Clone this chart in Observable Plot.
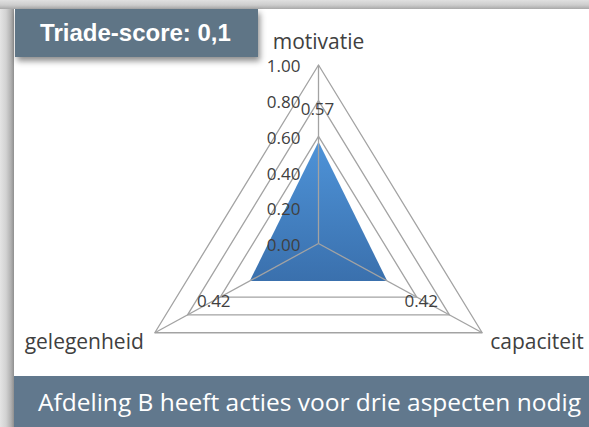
<!DOCTYPE html>
<html>
<head>
<meta charset="utf-8">
<script src="https://cdn.jsdelivr.net/npm/d3@7"></script>
<script src="https://cdn.jsdelivr.net/npm/@observablehq/plot@0.6"></script>
<style>
  html, body { margin: 0; padding: 0; }
  body { width: 589px; height: 427px; overflow: hidden; }
  #frame {
    position: relative; width: 589px; height: 427px; overflow: hidden;
    background: linear-gradient(to right, #e4e4e4 0px, #d2d2d2 6px, #b0b0b0 11px, #8f8f8f 14px);
  }
  #topstrip {
    position: absolute; left: 0; top: 0; width: 589px; height: 9px;
    background: linear-gradient(to bottom, #e0e0e0 0px, #cdcdcd 5px, #a8a8a8 9px);
  }
  #panel {
    position: absolute; left: 14px; top: 9px; width: 575px; height: 418px;
    background: #ffffff;
  }
  #chart { position: absolute; left: 0; top: 0; }
  #title {
    position: absolute; left: 15px; top: 9px; width: 243px; height: 48px;
    background: #5f7586; color: #fff;
    font-family: "Liberation Sans", Arial, sans-serif; font-weight: bold; font-size: 24px;
    line-height: 48px; text-align: center; box-sizing: border-box; padding-right: 2px;
    box-shadow: 2px 4px 6px rgba(0,0,0,0.45);
  }
  #caption {
    position: absolute; left: 14px; top: 376px; width: 575px; height: 51px;
    background: #61788d; color: #fff;
    font-family: "Open Sans", Lato, sans-serif; font-size: 24.5px;
    line-height: 51px; box-sizing: border-box; padding-left: 24px; white-space: nowrap;
  }
</style>
</head>
<body>
<div id="frame">
  <div id="topstrip"></div>
  <div id="panel"></div>
  <div id="chart"></div>
  <div id="title">Triade-score: 0,1</div>
  <div id="caption">Afdeling B heeft acties voor drie aspecten nodig</div>
</div>
<script>
// ---- data ----
const axes = ["motivatie", "capaciteit", "gelegenheid"];
const angles = [90, -30, 210];            // degrees, one per axis
const values = [0.57, 0.42, 0.42];
const ticks = [0, 0.2, 0.4, 0.6, 0.8, 1.0];
const tickLabels = ["0.00", "0.20", "0.40", "0.60", "0.80", "1.00"];
const valueLabels = ["0.57", "0.42", "0.42"];

// ---- derived tables ----
const rad = a => a * Math.PI / 180;
const pt = (r, i) => ({x: r * Math.cos(rad(angles[i])), y: r * Math.sin(rad(angles[i]))});

const rings = ticks.flatMap(t => [0, 1, 2, 0].map(i => ({...pt(t, i), ring: t})));
const area = [0, 1, 2, 0].map(i => pt(values[i], i));
const spokes = axes.map((a, i) => ({x1: 0, y1: 0, x2: pt(1, i).x, y2: pt(1, i).y}));
const tickTable = ticks.map((t, i) => ({x: 0, y: t, label: tickLabels[i]}));
const valueTable = values.map((v, i) => ({...pt(v, i), label: valueLabels[i], i}));
const axisTable = axes.map((a, i) => ({...pt(1, i), label: a, i}));

const cx = 318, cy = 243, Rx = 189, Ry = 178.5;
const font = "'Open Sans', Lato, sans-serif";
const txt = "#404040";

const plot = Plot.plot({
  width: 589,
  height: 376,
  margin: 0,
  style: {background: "transparent", fontFamily: font, overflow: "visible"},
  x: {domain: [-1, 1], range: [cx - Rx, cx + Rx], axis: null},
  y: {domain: [-1, 1], range: [cy + Ry, cy - Ry], axis: null},
  marks: [
    Plot.line(rings, {x: "x", y: "y", z: "ring", stroke: "#a3a3a3", strokeWidth: 1.3}),
    Plot.line(area, {x: "x", y: "y", fill: "url(#blueGrad)", stroke: "none", curve: "linear"}),
    Plot.link(spokes, {x1: "x1", y1: "y1", x2: "x2", y2: "y2", stroke: "#a3a3a3", strokeWidth: 1.3}),
    Plot.text(tickTable, {x: "x", y: "y", text: "label", textAnchor: "end", dx: -18, dy: 2, fontSize: 17, fill: txt}),
    Plot.text(valueTable.filter(d => d.i === 0), {x: "x", y: "y", text: "label", dx: -1, dy: -32, fontSize: 17, fill: txt}),
    Plot.text(valueTable.filter(d => d.i === 1), {x: "x", y: "y", text: "label", dx: 34, dy: 21, fontSize: 17, fill: txt}),
    Plot.text(valueTable.filter(d => d.i === 2), {x: "x", y: "y", text: "label", dx: -36, dy: 21, fontSize: 17, fill: txt}),
    Plot.text(axisTable.filter(d => d.i === 0), {x: "x", y: "y", text: "label", dy: -23, fontSize: 21, fill: txt}),
    Plot.text(axisTable.filter(d => d.i === 1), {x: "x", y: "y", text: "label", textAnchor: "start", dx: 8, dy: 10, fontSize: 21, fill: txt}),
    Plot.text(axisTable.filter(d => d.i === 2), {x: "x", y: "y", text: "label", textAnchor: "end", dx: -11, dy: 10, fontSize: 21, fill: txt})
  ]
});

document.getElementById("chart").appendChild(plot);
// gradient definition for the filled area
const svg = d3.select(plot);
const grad = svg.insert("defs", ":first-child").append("linearGradient")
  .attr("id", "blueGrad").attr("x1", 0).attr("y1", 0).attr("x2", 0).attr("y2", 1);
grad.append("stop").attr("offset", "0%").attr("stop-color", "#4e93d8");
grad.append("stop").attr("offset", "100%").attr("stop-color", "#3a70ad");
</script>
</body>
</html>
